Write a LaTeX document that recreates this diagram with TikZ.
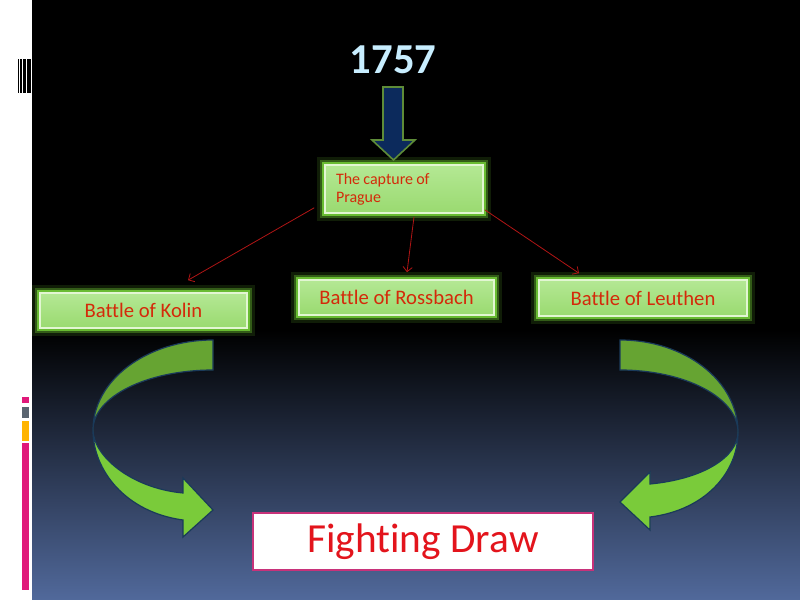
\documentclass[tikz,border=0pt]{standalone}
\usepackage{fontspec}
\setmainfont{Carlito}[Ligatures={NoCommon}]
\usetikzlibrary{calc,arrows.meta}
\definecolor{bgbot}{HTML}{51699B}
\definecolor{boxtop}{HTML}{B4E894}
\definecolor{boxmid}{HTML}{92D466}
\definecolor{boxbot}{HTML}{9ADA70}
\definecolor{boxedge}{HTML}{E2F6D2}
\definecolor{glow}{HTML}{86F040}
\definecolor{battlered}{HTML}{D42A0A}
\definecolor{yearblue}{HTML}{C8EEFF}
\definecolor{navy}{HTML}{0C2A5C}
\definecolor{arrgreen}{HTML}{5E8C38}
\definecolor{linkred}{HTML}{B01515}
\definecolor{banddark}{HTML}{66A432}
\definecolor{bandlight}{HTML}{7ACB3A}
\definecolor{bandedge}{HTML}{1A3A5A}
\definecolor{drawedge}{HTML}{C8327A}
\definecolor{drawred}{HTML}{E3141C}
\definecolor{barpink}{HTML}{E0197A}
\definecolor{bargray}{HTML}{5A6470}
\definecolor{barorange}{HTML}{FFB400}
\begin{document}
\begin{tikzpicture}[x=0.75pt,y=-0.75pt,
  greenbox/.style={rectangle, inner sep=0pt, draw=boxedge, line width=1.2pt,
    top color=boxtop, middle color=boxmid, bottom color=boxbot, text=battlered,
    preaction={draw=glow, line width=12pt, draw opacity=0.12},
    preaction={draw=glow, line width=8pt, draw opacity=0.3},
    preaction={draw=glow, line width=4.5pt, draw opacity=0.65}},
  battle/.style={greenbox, font=\fontsize{15.5}{18}\selectfont},
  link/.style={draw=linkred, line width=0.6pt, -{Straight Barb[length=3.5pt,width=7pt]}},
  band/.style={draw=bandedge, line width=0.9pt}]
\useasboundingbox (0,0) rectangle (800,600);
% background
\fill[white] (0,0) rectangle (32,600);
\fill[black] (32,0) rectangle (800,331);
\shade[top color=black, bottom color=bgbot] (32,330) rectangle (800,600);
% barcode
\fill[black] (18.3,59) rectangle (19.3,93);
\fill[black] (20.3,59) rectangle (22.3,93);
\fill[black] (23,59) rectangle (26,93);
\fill[black] (27,59) rectangle (30.7,93);
% side colour bars
\fill[barpink] (22,397) rectangle (29,403);
\fill[bargray] (22,407) rectangle (29,418);
\fill[barorange] (22,421) rectangle (29,441);
\fill[barpink] (22,443) rectangle (29,590);
% nodes
\node[text=yearblue, font=\fontsize{32}{38}\selectfont\bfseries] (year) at (393,60) {1757};
\node[greenbox, minimum width=118.5pt, minimum height=36pt, text width=102pt, align=left,
  font=\fontsize{12}{13.5}\selectfont] (prague) at (404,189) {\spaceskip=0.2em\relax The capture of\\Prague};
\node[battle, minimum width=155.25pt, minimum height=26.25pt] (kolin) at (143.5,310.5) {Battle of Kolin};
\node[battle, minimum width=146.25pt, minimum height=26.25pt] (ross) at (396.5,297.5) {Battle of Rossbach};
\node[battle, minimum width=156pt, minimum height=27pt] (leuthen) at (643,298) {Battle of Leuthen};
\node[rectangle, draw=drawedge, line width=1.5pt, fill=white, inner sep=0pt,
  minimum width=255pt, minimum height=42.75pt, text=drawred,
  font=\fontsize{31}{36}\selectfont] (draw) at (423,541.5) {Fighting Draw};
% down arrow
\filldraw[fill=navy, draw=arrgreen, line width=1.2pt]
  (383,87) -- (403,87) -- (403,140) -- (415,140) -- (393.5,160) -- (372,140) -- (383,140) -- cycle;
% links
\draw[link] ($(prague.south west)+(-10,-6)$) -- ($(kolin.north)+(44.5,-12)$);
\draw[link] ($(prague.south)+(10,3)$) -- ($(ross.north)+(10.5,-7)$);
\draw[link] ($(prague.south east)+(1,-4)$) -- ($(leuthen.north)+(-64,-6)$);
% left curved arrow
\filldraw[band, fill=banddark] (213,340) .. controls (146.7,340) and (93,380.3) .. (93,430)
  .. controls (93,396.9) and (146.7,370) .. (213,370) -- cycle;
\filldraw[band, fill=bandlight] (93,430) .. controls (93,470) and (125,512) .. (183,520)
  -- (183,537) -- (213,510) -- (183,478) -- (183,493)
  .. controls (130,488) and (93,455) .. (93,430) -- cycle;
% right curved arrow
\filldraw[band, fill=banddark] (620,340) .. controls (685.2,340) and (738,381.2) .. (738,432)
  .. controls (738,397.8) and (685.2,370) .. (620,370) -- cycle;
\filldraw[band, fill=bandlight] (738,432) .. controls (738,472) and (706,510) .. (650,517)
  -- (650,530) -- (620,502) -- (650,472) -- (650,484)
  .. controls (703,479) and (738,457) .. (738,432) -- cycle;
\end{tikzpicture}
\end{document}
